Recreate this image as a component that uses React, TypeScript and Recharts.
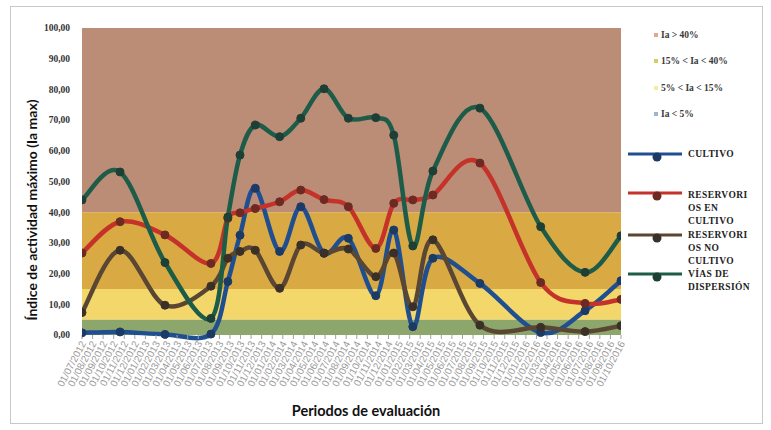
import React from 'react';
import { LineChart, Line, XAxis, YAxis, ReferenceArea } from 'recharts';

// ---------- DATA ----------
const tickLabels = [
  '01/07/2012', '01/08/2012', '01/09/2012', '01/10/2012', '01/11/2012', '01/12/2012',
  '01/01/2013', '01/02/2013', '01/03/2013', '01/04/2013', '01/05/2013', '01/06/2013',
  '01/07/2013', '01/08/2013', '01/09/2013', '01/10/2013', '01/11/2013', '01/12/2013',
  '01/01/2014', '01/02/2014', '01/03/2014', '01/04/2014', '01/05/2014', '01/06/2014',
  '01/07/2014', '01/08/2014', '01/09/2014', '01/10/2014', '01/11/2014', '01/12/2014',
  '01/01/2015', '01/02/2015', '01/03/2015', '01/04/2015', '01/05/2015', '01/06/2015',
  '01/07/2015', '01/08/2015', '01/09/2015', '01/10/2015', '01/11/2015', '01/12/2015',
  '01/01/2016', '01/02/2016', '01/03/2016', '01/04/2016', '01/05/2016', '01/06/2016',
  '01/07/2016', '01/08/2016', '01/09/2016', '01/10/2016',
];

// sampling positions (in months along the period axis)
const periodT = [0, 3.6, 7.85, 12.2, 13.8, 14.95, 16.4, 18.7, 20.7, 22.9, 25.2, 27.8, 29.5, 31.3, 33.2, 37.65, 43.4, 47.6, 51];

const cultivo = [0.7, 1.0, 0.2, 0.3, 17.4, 32.5, 47.8, 27.2, 41.8, 26.6, 31.5, 12.8, 34.2, 2.7, 25.0, 16.8, 0.8, 7.9, 17.7];
const reservoriosEnCultivo = [26.7, 36.9, 32.6, 23.3, 38.0, 39.8, 41.2, 43.4, 47.2, 44.1, 41.8, 28.2, 42.9, 44.0, 45.6, 56.0, 17.1, 10.3, 11.6];
const reservoriosNoCultivo = [7.3, 27.6, 9.7, 15.9, 25.0, 27.2, 27.6, 15.2, 29.3, 26.7, 28.0, 19.0, 26.7, 9.2, 31.0, 3.2, 2.5, 1.1, 3.0];
const viasDispersion = [44.0, 53.1, 23.6, 5.4, 38.4, 58.6, 68.4, 64.6, 70.6, 80.2, 70.6, 70.8, 65.1, 29.0, 53.4, 73.9, 35.3, 20.4, 32.3];

const yTicks = [0, 10, 20, 30, 40, 50, 60, 70, 80, 90, 100];

// activity bands (lower, upper)
const bandLower = [40, 15, 5, 0];
const bandUpper = [100, 40, 15, 5];
const bandNames = ['Ia > 40%', '15% < Ia < 40%', '5% < Ia < 15%', 'Ia < 5%'];
const bandColors = ['#BB8C76', '#D9A944', '#F3D76B', '#8DA66B'];
const bandMarkColors = ['#e3a889', '#cfd15a', '#f3eca0', '#9fb4c4'];

const seriesKeys = ['cultivo', 'enCultivo', 'noCultivo', 'vias'];
const seriesNames = ['CULTIVO', 'RESERVORIOS EN CULTIVO', 'RESERVORIOS NO CULTIVO', 'VÍAS DE DISPERSIÓN'];
const seriesLegendLines = [['CULTIVO'], ['RESERVORI', 'OS EN', 'CULTIVO'], ['RESERVORI', 'OS NO', 'CULTIVO'], ['VÍAS DE', 'DISPERSIÓN']];
const seriesColors = ['#1f4f91', '#c4322a', '#5a4733', '#1d5c48'];
const seriesDotColors = ['#1b3a66', '#6e2a22', '#3a3028', '#1d3f35'];
const seriesValues = [cultivo, reservoriosEnCultivo, reservoriosNoCultivo, viasDispersion];

const rows = periodT.map((t, i) => {
  const r: any = { t };
  seriesKeys.forEach((k, s) => { r[k] = seriesValues[s][i]; });
  return r;
});

// ---------- Excel-like smoothing curve ----------
const excelSmooth: any = (context: any) => {
  let xs: number[] = [];
  let ys: number[] = [];
  return {
    areaStart() {},
    areaEnd() {},
    lineStart() { xs = []; ys = []; },
    lineEnd() {
      const n = xs.length;
      if (!n) return;
      context.moveTo(xs[0], ys[0]);
      for (let i = 0; i < n - 1; i++) {
        const a = Math.max(i - 1, 0);
        const d = Math.min(i + 2, n - 1);
        const x1 = xs[i], y1 = ys[i], x2 = xs[i + 1], y2 = ys[i + 1];
        context.bezierCurveTo(
          x1 + (x2 - xs[a]) / 6, y1 + (y2 - ys[a]) / 6,
          x2 - (xs[d] - x1) / 6, y2 - (ys[d] - y1) / 6,
          x2, y2,
        );
      }
    },
    point(x: number, y: number) { xs.push(+x); ys.push(+y); },
  };
};

const serif = '"Liberation Serif", "Times New Roman", serif';
const sans = 'Lato, "Open Sans", sans-serif';

const XTick = (props: any) => {
  const { x, y, payload } = props;
  return (
    <g transform={`translate(${x},${y})`}>
      <text x={0} y={0} dy={5} textAnchor="end" transform="rotate(-62)" fontSize={10}
        fontFamily='"Liberation Sans", Arial, sans-serif' fill="#9a9a9a">
        {tickLabels[payload.value]}
      </text>
    </g>
  );
};

const LegendBox = () => (
  <div style={{ position: 'absolute', left: 0, top: 0, width: 771, height: 430, pointerEvents: 'none' }}>
    {bandNames.map((n, i) => (
      <div key={n} style={{ position: 'absolute', left: 654, top: 28 + i * 26.6, height: 13, display: 'flex', alignItems: 'center' }}>
        <div style={{ width: 4, height: 4, background: bandMarkColors[i], marginRight: 3 }} />
        <span style={{ fontFamily: serif, fontWeight: 'bold', fontSize: 9.5, color: '#3a3a3a', whiteSpace: 'nowrap' }}>{n}</span>
      </div>
    ))}
    <svg width={771} height={430} style={{ position: 'absolute', left: 0, top: 0 }}>
      {seriesNames.map((n, i) => {
        const ly = [154, 193, 235, 274][i];
        return (
          <g key={n}>
            <line x1={628} x2={682} y1={ly} y2={ly} stroke={seriesColors[i]} strokeWidth={3} />
            <circle cx={657} cy={ly + 3} r={4.5} fill={seriesDotColors[i]} />
            {seriesLegendLines[i].map((t, j) => (
              <text key={t + j} x={688} y={ly + (i === 1 ? 2 : 0) + j * 12.6} dy="0.35em" fontFamily={serif}
                fontWeight="bold" fontSize={9.5} letterSpacing={0.4} fill="#222">{t}</text>
            ))}
          </g>
        );
      })}
    </svg>
  </div>
);

export default function App() {
  return (
    <div style={{ position: 'absolute', left: 0, top: 0, width: 771, height: 430, background: '#fff', overflow: 'hidden' }}>
      <div style={{ position: 'absolute', left: 10, top: 6, width: 753, height: 418, border: '1px solid #c8c8c8', boxSizing: 'border-box' }} />
      <div style={{ position: 'absolute', left: 0, top: 0 }}>
        <LineChart width={771} height={430} data={rows} margin={{ top: 28, right: 150, bottom: 35, left: 22 }}>
          {bandNames.map((n, i) => (
            <ReferenceArea key={n} y1={bandLower[i]} y2={bandUpper[i]} fill={bandColors[i]} fillOpacity={1} stroke="none" />
          ))}
          <XAxis dataKey="t" type="number" domain={[0, tickLabels.length - 1]} ticks={tickLabels.map((_, i) => i)}
            interval={0} height={60} tick={<XTick />} tickSize={4} tickMargin={2}
            axisLine={false} tickLine={{ stroke: '#a0a0a0' }} allowDataOverflow />
          <YAxis type="number" domain={[0, 100]} ticks={yTicks} width={60} axisLine={false} tickLine={false}
            tickSize={6} tickMargin={6} interval={0}
            tickFormatter={(v: number) => v.toFixed(2).replace('.', ',')}
            tick={{ fontFamily: serif, fontWeight: 'bold', fontSize: 9.5, fill: '#333' }} />
          {seriesKeys.map((k, i) => (
            <Line key={k} dataKey={k} name={seriesNames[i]} type={excelSmooth} stroke={seriesColors[i]} strokeWidth={4.5}
              dot={{ r: 4, fill: seriesDotColors[i], stroke: seriesDotColors[i], strokeWidth: 1 }}
              activeDot={false} isAnimationActive={false} connectNulls />
          ))}
        </LineChart>
      </div>
      <LegendBox />
      <div style={{ position: 'absolute', left: 31, top: 210, transform: 'translate(-50%,-50%) rotate(-90deg)', whiteSpace: 'nowrap',
        fontFamily: sans, fontWeight: 'bold', fontSize: 14, color: '#111' }}>
        Índice de actividad máximo (Ia max)
      </div>
      <div style={{ position: 'absolute', left: 366, top: 410, transform: 'translate(-50%,-50%)', whiteSpace: 'nowrap',
        fontFamily: sans, fontWeight: 'bold', fontSize: 14.5, color: '#111' }}>
        Periodos de evaluación
      </div>
    </div>
  );
}
